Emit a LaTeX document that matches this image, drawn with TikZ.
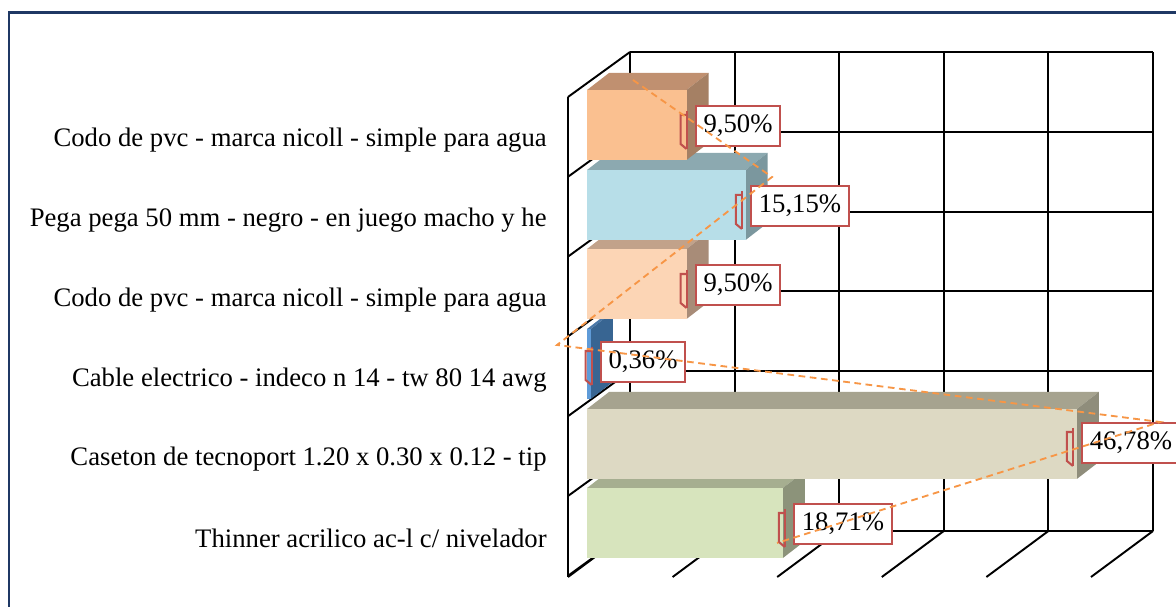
\documentclass[tikz,border=0pt]{standalone}
\usepackage{fontspec}
\setmainfont{Liberation Serif}
\usepackage{tikz}
\usetikzlibrary{calc}
\usetikzlibrary{positioning}

\definecolor{framenavy}{HTML}{1F3864}
\definecolor{tagred}{HTML}{C0504D}
\definecolor{leadorange}{HTML}{F79646}
% bar colours: front, top, side
\definecolor{orF}{HTML}{FAC090}\definecolor{orT}{HTML}{C09070}\definecolor{orS}{HTML}{A58064}
\definecolor{cyF}{HTML}{B7DEE8}\definecolor{cyT}{HTML}{8CA9B0}\definecolor{cyS}{HTML}{7B979E}
\definecolor{peF}{HTML}{FCD5B5}\definecolor{peT}{HTML}{C2A28A}\definecolor{peS}{HTML}{A88C78}
\definecolor{blF}{HTML}{5F9BD8}\definecolor{blT}{HTML}{4A78A8}\definecolor{blS}{HTML}{386592}
\definecolor{taF}{HTML}{DDD9C3}\definecolor{taT}{HTML}{A6A38F}\definecolor{taS}{HTML}{8F8D7B}
\definecolor{grF}{HTML}{D7E4BD}\definecolor{grT}{HTML}{A6AE90}\definecolor{grS}{HTML}{8C937A}

\tikzset{
  grid/.style={line width=1.1pt, black},
  cat/.style={anchor=east, inner sep=0pt, font=\fontsize{15.2}{18}\selectfont},
  pct/.style={draw=tagred, fill=white, line width=1.2pt, minimum height=0.8cm,
              inner xsep=4.5pt, font=\fontsize{15.2}{18}\selectfont},
  tagline/.style={draw=tagred, line width=1.2pt},
  lead/.style={leadorange, line width=1.05pt, dash pattern=on 3.8pt off 2.6pt}
}

% 3D bar: top y, length, front, top, side colour
\newcommand{\barbox}[5]{%
  \fill[#4] (587,#1) -- ++(22,-17) -- ++(#2,0) -- ++(-22,17) -- cycle;
  \fill[#5] (587+#2,#1) -- ++(22,-17) -- ++(0,70) -- ++(-22,17) -- cycle;
  \fill[#3] (587,#1) rectangle ++(#2,70);
}
% little red mark left of a label
\newcommand{\tagmark}[1]{%
  \draw[tagline] ($(#1.north west)+(-8,6)$) -- ++(0,38);
  \draw[tagline] ($(#1.north west)+(-8,10)$) -- ++(-6,0) -- ++(0,29) -- ++(6,5);
}

\begin{document}
\begin{tikzpicture}[x=0.02cm, y=-0.02cm]
  \useasboundingbox (0,0) rectangle (1176,607);
  \fill[white] (0,0) rectangle (1176,607);
  \draw[framenavy, line width=1.7pt] (9,620) -- (9,13) -- (1190,13);

  % back wall, left wall, floor
  \foreach \i in {0,...,5} \draw[grid] (630+104.6*\i,52) -- (630+104.6*\i,531);
  \foreach \j in {0,...,6} \draw[grid] (630,52+79.8*\j) -- (1153,52+79.8*\j);
  \draw[grid] (568,97) -- (568,577);
  \foreach \j in {0,...,6} \draw[grid] (568,97+79.8*\j) -- (630,52+79.8*\j);
  \foreach \i in {0,...,5} \draw[grid] (568+104.6*\i,577) -- (630+104.6*\i,531);

  % bars, lowest first
  \barbox{488}{195.9}{grF}{grT}{grS}
  \barbox{409}{489.8}{taF}{taT}{taS}
  \barbox{329}{3.8}{blF}{blT}{blS}
  \barbox{249}{99.5}{peF}{peT}{peS}
  \barbox{170}{158.6}{cyF}{cyT}{cyS}
  \barbox{90}{99.5}{orF}{orT}{orS}

  % category names
  \node[cat] (c1) at (547,140) {Codo de pvc - marca nicoll - simple para agua};
  \node[cat] (c2) at (547,220) {Pega pega 50 mm - negro - en juego macho y he};
  \node[cat] (c3) at (547,300) {Codo de pvc - marca nicoll - simple para agua};
  \node[cat] (c4) at (547,380) {Cable electrico - indeco n 14 - tw 80 14 awg};
  \node[cat] (c5) at (547,459) {Caseton de tecnoport 1.20 x 0.30 x 0.12 - tip};
  \node[cat] (c6) at (547,538) {Thinner acrilico ac-l c/ nivelador};

  % value labels
  \node[pct] (v1) at (738,126) {9,50\%};
  \node[pct] (v2) at (800,206) {15,15\%};
  \node[pct] (v3) at (738,285) {9,50\%};
  \node[pct] (v4) at (643,362) {0,36\%};
  \node[pct] (v5) at (1131,443) {46,78\%};
  \node[pct] (v6) at (843,524) {18,71\%};
  \foreach \n in {v1,v2,v3,v4,v5,v6} {\tagmark{\n}}

  % leader lines
  \coordinate (d1) at (633,80);
  \coordinate (d2) at (772,177);
  \coordinate (d3) at (557,345);
  \coordinate (d4) at (1160,422);
  \coordinate (d5) at (777,543);
  \draw[lead] (d1) -- (d2) -- (d3) -- (d4) -- (d5);
\end{tikzpicture}
\end{document}
